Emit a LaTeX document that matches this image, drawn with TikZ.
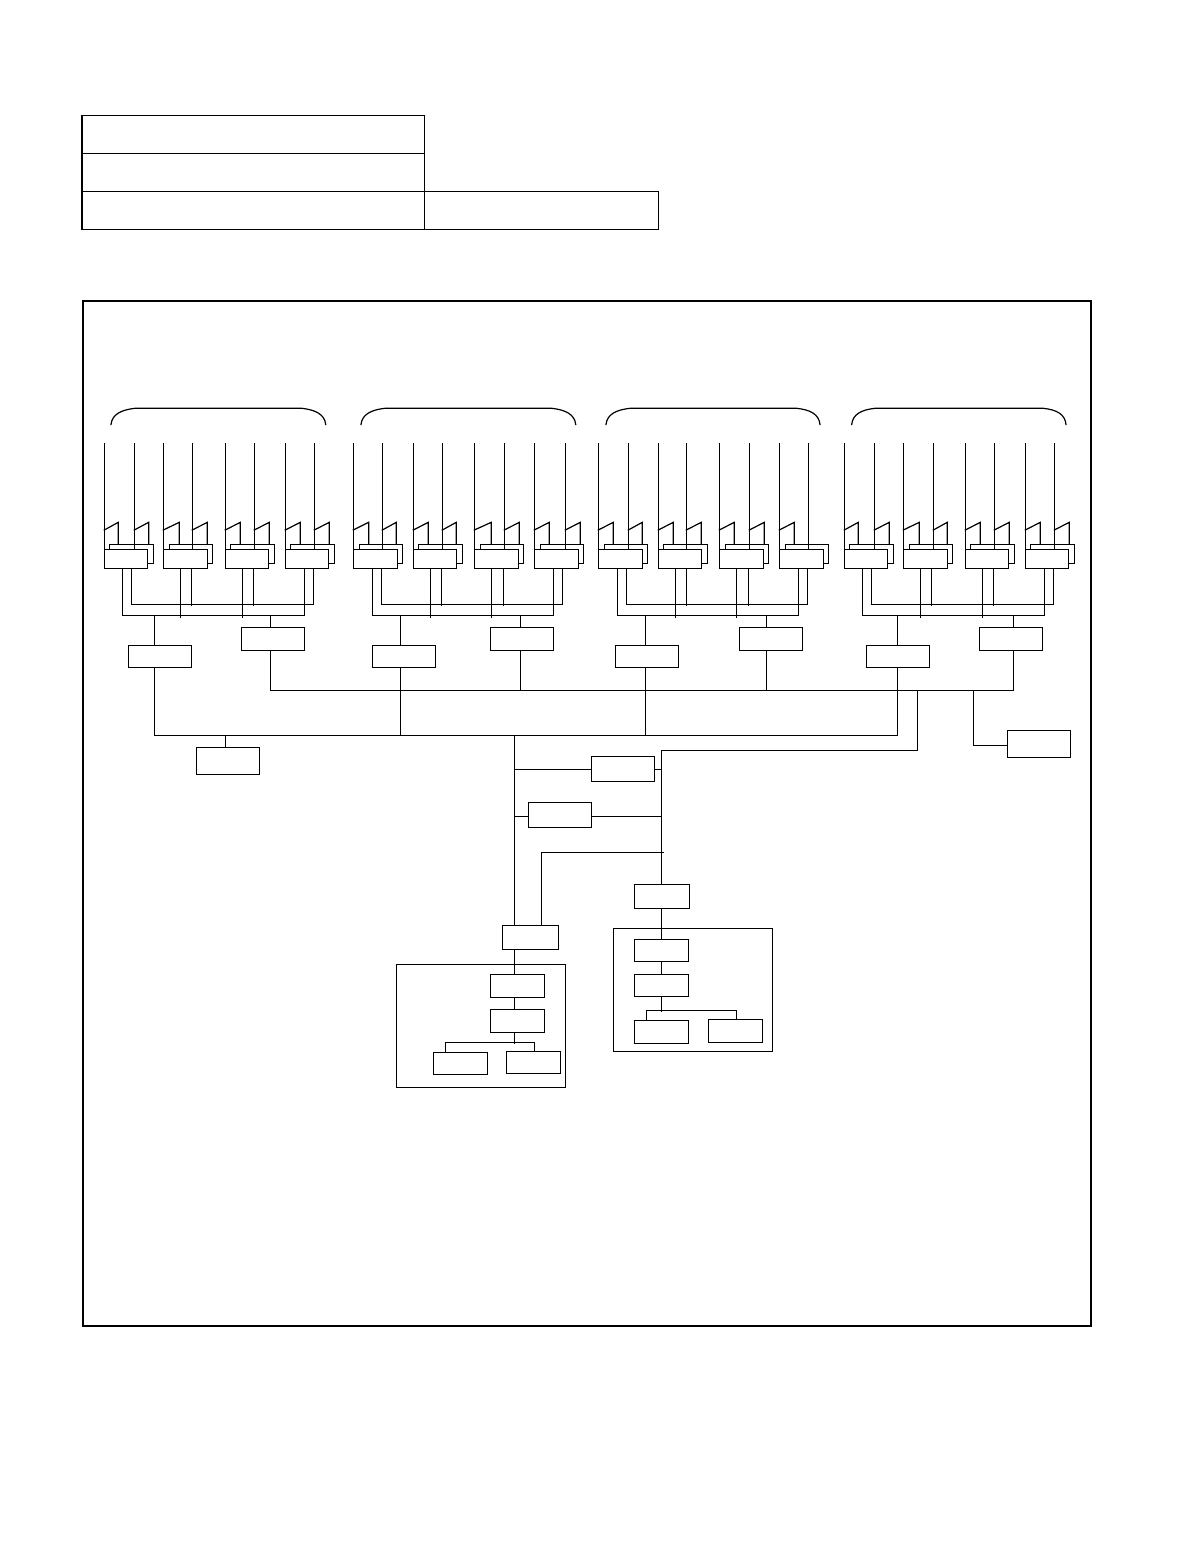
\documentclass[tikz,border=0pt]{standalone}
\usetikzlibrary{calc}
\tikzset{
  px/.style={x=0.5pt,y=-0.5pt},
  thin line/.style={line width=0.6pt,line cap=rect,line join=miter},
  blk/.style={draw=black,fill=white,thin line,inner sep=0pt,outer sep=0pt},
  frameline/.style={draw=black,line width=1pt,inner sep=0pt,outer sep=0pt},
  wire/.style={draw=black,thin line},
}
% rectangle node from its corners: name, x1, y1, x2, y2
\newcommand\bx[6][blk]{%
  \node[#1,minimum width={(#5-#3)*0.5pt},minimum height={(#6-#4)*0.5pt}] (#2) at ({(#3+#5)/2},{(#4+#6)/2}) {};}
% line unit: id, v1, v2, front right, back left, back right, flag1, flag2 (0 = none)
\newcommand\lineunit[8]{%
  \bx{#1-b}{#5}{544.3}{#6}{563.3}%
  \coordinate (#1-t1) at (#2,444);
  \coordinate (#1-t2) at (#3,444);
  \coordinate (#1-p1) at (#2,530);
  \coordinate (#1-p2) at (#3,530);
  \coordinate (#1-q1) at (#7,522.3);
  \draw[wire] (#1-p1) -- (#1-q1) -- (#1-q1 |- #1-b.north);
  \ifdim #8pt>0pt
    \coordinate (#1-q2) at (#8,522.3);
    \draw[wire] (#1-p2) -- (#1-q2) -- (#1-q2 |- #1-b.north);
  \fi
  \bx{#1-f}{#2}{549.3}{#4}{568.5}%
  \draw[wire] (#1-t1) -- (#1-t1 |- #1-f.north);
  \draw[wire] (#1-t2) -- (#1-t2 |- #1-f.north);
}
% collector wires under a group
\newcommand\wires[9]{%
  \coordinate (#1-a) at (#2,615.3);
  \coordinate (#1-ar) at (#3,615.3);
  \coordinate (#1-c) at (#4,604.3);
  \coordinate (#1-cr) at (#5,604.3);
  \draw[wire] (#1-a |- #1u1-f.south) -- (#1-a) -- (#1-ar) -- (#1-ar |- #1u4-f.south);
  \draw[wire] (#1-c |- #1u1-f.south) -- (#1-c) -- (#1-cr) -- (#1-cr |- #1u4-f.south);
  \coordinate (#1-s1) at (#6,617.7);
  \coordinate (#1-s2) at (#7,605.7);
  \coordinate (#1-s3) at (#8,617.7);
  \coordinate (#1-s4) at (#9,605.7);
  \draw[wire] (#1-s1 |- #1u2-f.south) -- (#1-s1);
  \draw[wire] (#1-s2 |- #1u2-f.south) -- (#1-s2);
  \draw[wire] (#1-s3 |- #1u3-f.south) -- (#1-s3);
  \draw[wire] (#1-s4 |- #1u3-f.south) -- (#1-s4);
}
% the two lower boxes of a group
\newcommand\lows[7]{%
  \bx{#1-L}{#2}{645.3}{#3}{667.3}%
  \bx{#1-R}{#5}{627.3}{#6}{650.3}%
  \coordinate (#1-lt) at (#4,615.3);
  \coordinate (#1-rt) at (#7,615.3);
  \coordinate (#1-lb) at (#4,735.3);
  \coordinate (#1-rb) at (#7,690.3);
  \draw[wire] (#1-lt) -- (#1-lt |- #1-L.north);
  \draw[wire] (#1-lt |- #1-L.south) -- (#1-lb);
  \draw[wire] (#1-rt) -- (#1-rt |- #1-R.north);
  \draw[wire] (#1-rt |- #1-R.south) -- (#1-rb);
}
% brace over a group: left x, left curve end, right curve end, right x
\newcommand\grpbrace[5]{%
  \coordinate (#1-bl) at (#2,424.5);
  \coordinate (#1-bm) at (#3,408.3);
  \coordinate (#1-bn) at (#4,408.3);
  \coordinate (#1-br) at (#5,424.5);
  \draw[wire] (#1-bl) .. controls ($(#1-bl)+(1,-10)$) and ($(#1-bm)+(-14,1.5)$) .. (#1-bm) -- (#1-bn)
     .. controls ($(#1-bn)+(14,1.5)$) and ($(#1-br)+(-1,-10)$) .. (#1-br);
}
\begin{document}
\begin{tikzpicture}[px]
\useasboundingbox (0,0) rectangle (1198,1560);
% header table
\bx{t1}{82}{115.3}{424.5}{153.3}
\bx{t2}{82}{153.3}{424.5}{191.3}
\bx{t3}{82}{191.3}{424.5}{229.3}
\bx{t4}{424.5}{191.3}{658.5}{229.3}
% outer frame
\bx[frameline]{frame}{82.5}{301}{1091}{1326}

% braces
\grpbrace{g1}{111}{135}{301.7}{325.7}
\grpbrace{g2}{361}{385}{551.7}{575.7}
\grpbrace{g3}{606}{630}{796.7}{820}
\grpbrace{g4}{851.7}{875}{1043.3}{1066}

% group 1
\lineunit{g1u1}{104.3}{134.3}{147.3}{109.3}{153.3}{118.3}{148.7}
\lineunit{g1u2}{163.3}{192.3}{207.3}{169.3}{212.3}{179.3}{207.3}
\lineunit{g1u3}{225.3}{254.3}{268.3}{230.3}{274.7}{240.3}{269.3}
\lineunit{g1u4}{285.3}{314.3}{328.3}{290.3}{334.3}{300.3}{329.3}
\wires{g1}{122.7}{304.3}{131.3}{313.3}{180.3}{191.3}{242.3}{253.3}
\lows{g1}{128.3}{191.3}{154.3}{241.3}{304.3}{270.3}

% group 2
\lineunit{g2u1}{353.3}{382.3}{397.3}{359.3}{402.3}{368.7}{396.3}
\lineunit{g2u2}{413.3}{442.3}{456.3}{418.3}{462.3}{428.3}{456.3}
\lineunit{g2u3}{474.3}{504.3}{518.3}{480.3}{523.3}{491.3}{519.3}
\lineunit{g2u4}{534.3}{565.3}{578.3}{540.3}{583.3}{549.3}{580.3}
\wires{g2}{372.3}{553.3}{381.3}{562.3}{430.3}{441.3}{491.3}{503.3}
\lows{g2}{372.3}{435.3}{400.3}{490.3}{553.3}{520.3}

% group 3 (its last line has no flag)
\lineunit{g3u1}{598.3}{628.3}{642.3}{604.3}{647.3}{613.3}{642.3}
\lineunit{g3u2}{658.3}{686.3}{701.3}{663.3}{707.3}{673.3}{701.3}
\lineunit{g3u3}{719.3}{749.3}{763.3}{725.3}{768.3}{734.3}{764.3}
\lineunit{g3u4}{779.3}{808.3}{823.3}{785.3}{828.3}{794.3}{0}
\wires{g3}{617.3}{798.3}{626.3}{807.3}{675.3}{686.3}{736.3}{748.3}
\lows{g3}{615.3}{678.3}{645.3}{739.3}{802.3}{766.3}

% group 4
\lineunit{g4u1}{844.3}{874.3}{887.3}{849.3}{893.3}{858.3}{889.3}
\lineunit{g4u2}{903.3}{933.3}{947.3}{909.3}{952.3}{919.3}{947.3}
\lineunit{g4u3}{965.3}{994.3}{1008.3}{970.3}{1014.3}{980.3}{1009.3}
\lineunit{g4u4}{1025.3}{1054.3}{1068.3}{1030.3}{1074.3}{1040.3}{1069.3}
\wires{g4}{862.3}{1044.3}{871.3}{1053.3}{920.3}{931.3}{982.3}{993.3}
\lows{g4}{866.3}{929.3}{897.3}{979.3}{1042.3}{1013.3}

% the two buses
\draw[wire] (g1-lb) -- (g4-lb);
\draw[wire] (g1-rb) -- (g4-rb);

% box under the lower bus
\bx{busbox}{196.3}{747.3}{259.3}{774.3}
\coordinate (busj) at (225.3,735.3);
\draw[wire] (busj) -- (busj |- busbox.north);

% right branch box
\bx{rbox}{1007.3}{730.3}{1070.3}{757.3}
\coordinate (rj) at (973.3,690.3);
\coordinate (rk) at (973.3,745.3);
\draw[wire] (rj) -- (rk) -- (rk -| rbox.west);

% centre
\coordinate (mainTop) at (514.3,735.3);
\coordinate (sideTop) at (661.3,750.3);
\coordinate (branchA) at (917.3,690.3);
\coordinate (branchB) at (917.3,750.3);
\draw[wire] (branchA) -- (branchB) -- (sideTop);

\bx{boxA}{591.3}{756.3}{654.3}{781.3}
\bx{boxB}{528.3}{802.3}{591.3}{827.3}
\bx{boxC}{634.3}{884.3}{689.3}{908.3}
\bx{boxD}{502.3}{925.3}{558.3}{949.3}
\draw[wire] (mainTop) -- (mainTop |- boxD.north);
\draw[wire] (sideTop) -- (sideTop |- boxC.north);

\coordinate (aL) at (514.3,769.3);
\coordinate (aR) at (661.3,769.3);
\draw[wire] (aL) -- (aL -| boxA.west);
\draw[wire] (aR -| boxA.east) -- (aR);
\coordinate (bL) at (514.3,816.3);
\coordinate (bR) at (661.3,816.3);
\draw[wire] (bL) -- (bL -| boxB.west);
\draw[wire] (bR -| boxB.east) -- (bR);
\coordinate (dUp) at (541.3,852.3);
\coordinate (dEnd) at (663.7,852.3);
\draw[wire] (dUp |- boxD.north) -- (dUp) -- (dEnd);

% right panel
\bx{panelR}{613.3}{928.3}{772.3}{1051.3}
\bx{pr1}{634.3}{939.3}{688.3}{961.3}
\bx{pr2}{634.3}{974.3}{688.3}{996.3}
\bx{pr3}{634.3}{1020.3}{688.3}{1043.3}
\bx{pr4}{708.3}{1019.3}{762.3}{1042.3}
\coordinate (prx) at (661.3,1011.7);
\draw[wire] (prx |- boxC.south) -- (prx |- pr1.north);
\draw[wire] (prx |- pr1.south) -- (prx |- pr2.north);
\draw[wire] (prx |- pr2.south) -- (prx);
\coordinate (prl) at (646.3,1010.3);
\coordinate (prr) at (736.3,1010.3);
\draw[wire] (prl |- pr3.north) -- (prl) -- (prr) -- (prr |- pr4.north);

% left panel
\bx{panelL}{396.3}{964.3}{565.3}{1087.3}
\bx{pl1}{490.3}{974.3}{544.3}{997.3}
\bx{pl2}{490.3}{1009.3}{544.3}{1032.3}
\bx{pl3}{433.3}{1052.3}{487.3}{1074.3}
\bx{pl4}{506.3}{1051.3}{560.3}{1073.3}
\coordinate (plx) at (514.3,1043.7);
\draw[wire] (plx |- boxD.south) -- (plx |- pl1.north);
\draw[wire] (plx |- pl1.south) -- (plx |- pl2.north);
\draw[wire] (plx |- pl2.south) -- (plx);
\coordinate (pll) at (445.3,1042.3);
\coordinate (plr) at (534.3,1042.3);
\draw[wire] (pll |- pl3.north) -- (pll) -- (plr) -- (plr |- pl4.north);
\end{tikzpicture}
\end{document}
